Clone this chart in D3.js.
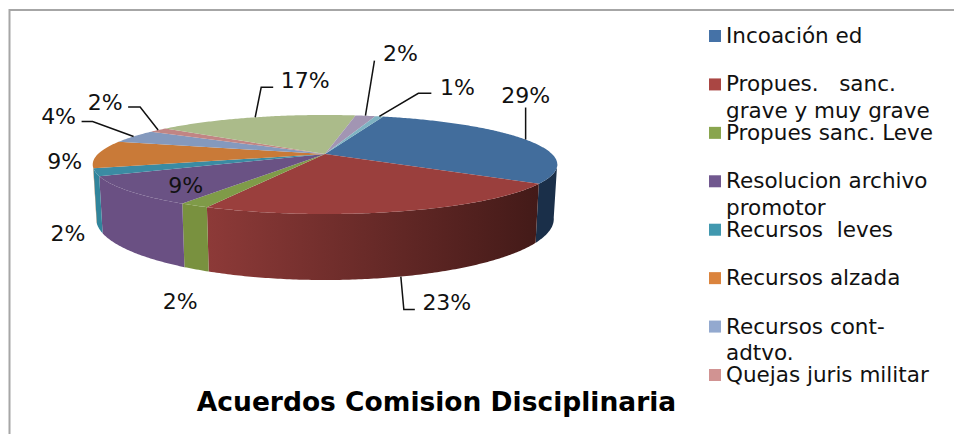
<!DOCTYPE html>
<html>
<head>
<meta charset="UTF-8">
<title>Acuerdos Comision Disciplinaria</title>
<script src="https://cdn.jsdelivr.net/npm/d3@7"></script>
<style>
    body { margin: 0; background: #fff; }
    svg { display: block; }
    text { font-family: "DejaVu Sans", Verdana, sans-serif; fill: #111; }
</style>
</head>
<body>
<svg width="954" height="434"></svg>
<script>
// data, labels show the rounded value
const title = "Acuerdos Comision Disciplinaria";
const legendLabels = [
    ["Incoación ed"],
    ["Propues.   sanc.", "grave y muy grave"],
    ["Propues sanc. Leve"],
    ["Resolucion archivo", "promotor"],
    ["Recursos  leves"],
    ["Recursos alzada"],
    ["Recursos cont-", "adtvo."],
    ["Quejas juris militar"]
];
const percents = [29.4, 22.5, 1.7, 9.4, 2.4, 9.0, 4.4, 1.6, 17.2, 1.7, 0.7];

const legendColors = ["#4572a7", "#aa4643", "#89a54e", "#71588f", "#4198af", "#db843d", "#93a9cf", "#d19392"];
const topColors = ["#426d9c", "#9a3f3d", "#7f9b48", "#6a5284", "#3b8ba3", "#c97a38", "#8499bd", "#c18584", "#abbb8a", "#a295b3", "#7fb3c2"];
const wallLeft = ["#1a2f49", "#8d3a38", "#79913f", "#6a5083", "#31859c", "#a8632b", "#6f83a5", "#a06f6e", "#8f9d73", "#887d96", "#6a96a3"];
const wallRight = ["#1a2f49", "#431a18", "#79913f", "#6a5083", "#31859c", "#a8632b", "#6f83a5", "#a06f6e", "#8f9d73", "#887d96", "#6a96a3"];

// label offset from the rim point of each slice, plus leader line bends (also relative to the rim)
const labelOffset = [[0, -44], [46, 26], [-16, 32], [57, -5], [-31, 5], [-33, 7], [-75, -20], [-53, -28], [50, -37], [35, -62], [78, -29]];
const leaderBends = [
    [[0, -32]],
    [[3, 33], [14, 33]],
    [], [], [], [],
    [[-41, -15], [-52, -15]],
    [[-18, -23], [-30, -23]],
    [[6, -30], [18, -30]],
    [[9, -55]],
    [[39, -23], [52, -23]]
];
const onWall = [false, true, true, false, true, false, false, false, false, false, false];

const svg = d3.select("svg");
const defs = svg.append("defs");

// chart frame, only top and left show in the crop
svg.append("path")
    .attr("d", d3.line()([[954, 10], [9.5, 10], [9.5, 434]]))
    .attr("fill", "none").attr("stroke", "#a6a6a6").attr("stroke-width", 2);

// perspective projection of the pie disc
const cx = 325, apexY = 154, radX = 227, radY = 47.3, persp = 0.212, depth = 52;
function project(a, bottom) {
    const x = Math.sin(a), y = -Math.cos(a), w = 1 - persp * y;
    const sx = radX * x / w, sy = apexY + radY * y / w;
    return bottom ? [cx + sx * 0.985, sy + depth / w] : [cx + sx, sy];
}

const pie = d3.pie().sort(null)
    .startAngle(18 * Math.PI / 180)
    .endAngle((18 + 360) * Math.PI / 180);
const arcs = pie(percents);
const line = d3.line();

function rim(a0, a1, bottom) {
    const n = Math.max(2, Math.ceil((a1 - a0) * 90));
    return d3.range(n + 1).map(i => project(a0 + (a1 - a0) * i / n, bottom));
}

// side wall, only the front part of the disc can be seen
const wallFrom = 101 * Math.PI / 180, wallTo = 254.5 * Math.PI / 180;
arcs.forEach((d, i) => {
    const a0 = Math.max(d.startAngle, wallFrom), a1 = Math.min(d.endAngle, wallTo);
    if (a1 <= a0) return;
    const top = rim(a0, a1, false), bot = rim(a0, a1, true).reverse();
    const xs = d3.extent(top.concat(bot), p => p[0]);
    const grad = defs.append("linearGradient").attr("id", "wall" + i)
        .attr("gradientUnits", "userSpaceOnUse")
        .attr("x1", xs[0]).attr("x2", xs[1]).attr("y1", 0).attr("y2", 0);
    grad.append("stop").attr("offset", 0).attr("stop-color", wallLeft[i]);
    grad.append("stop").attr("offset", 1).attr("stop-color", wallRight[i]);
    svg.append("path")
        .attr("d", line(top.concat(bot)) + "Z")
        .attr("fill", `url(#wall${i})`);
});

// top face
svg.selectAll("path.slice").data(arcs).enter().append("path")
    .attr("class", "slice")
    .attr("d", d => line([[cx, apexY]].concat(rim(d.startAngle, d.endAngle, false))) + "Z")
    .attr("fill", (d, i) => topColors[i]);

// data labels and leaders
arcs.forEach((d, i) => {
    const mid = (d.startAngle + d.endAngle) / 2;
    const p = project(mid, onWall[i]);
    if (leaderBends[i].length) {
        const pts = [p].concat(leaderBends[i].map(b => [p[0] + b[0], p[1] + b[1]]));
        svg.append("path").attr("d", line(pts))
            .attr("fill", "none").attr("stroke", "#111").attr("stroke-width", 1.5);
    }
    svg.append("text")
        .attr("x", p[0] + labelOffset[i][0])
        .attr("y", p[1] + labelOffset[i][1])
        .attr("text-anchor", "middle")
        .attr("dominant-baseline", "central")
        .attr("font-size", 22)
        .text(Math.round(d.data) + "%");
});

// legend
const legendY = d3.scalePoint().domain(d3.range(legendLabels.length)).range([30, 369]);
legendLabels.forEach((lines, i) => {
    svg.append("rect")
        .attr("x", 709).attr("y", legendY(i))
        .attr("width", 12).attr("height", 12)
        .attr("fill", legendColors[i]);
    const t = svg.append("text").attr("font-size", 21.5);
    lines.forEach((s, j) => {
        t.append("tspan")
            .attr("x", 726).attr("y", legendY(i) + 13 + j * 26.5)
            .style("white-space", "pre")
            .text(s);
    });
});

svg.append("text")
    .attr("x", 436.5).attr("y", 411)
    .attr("text-anchor", "middle")
    .attr("font-size", 26.5).attr("font-weight", "bold")
    .style("fill", "#000")
    .text(title);
</script>
</body>
</html>
